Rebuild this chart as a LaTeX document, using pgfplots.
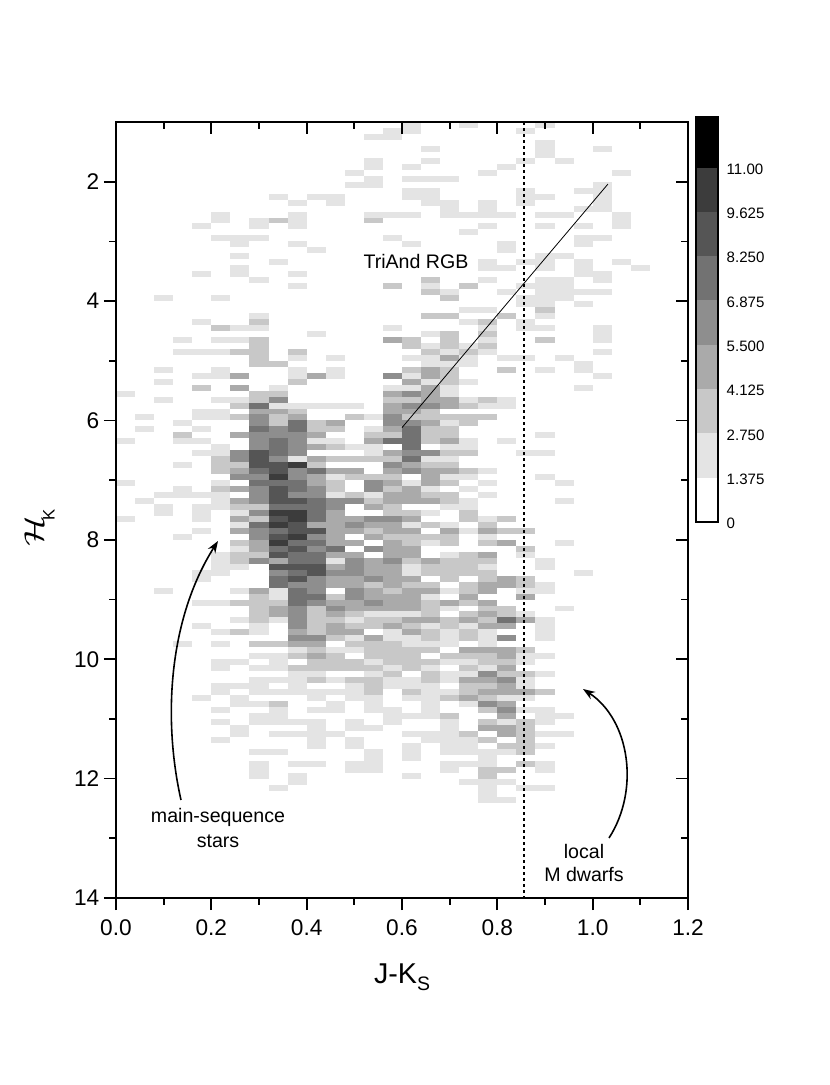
\documentclass[border=0pt]{standalone}
\usepackage{fontspec}
\setmainfont{Liberation Sans}
\usepackage{graphicx}
\usepackage{pgfplots}
\usepackage{pgfplotstable}
\pgfplotsset{compat=1.18}
\usetikzlibrary{arrows.meta}

\definecolor{lva}{HTML}{E4E4E4}
\definecolor{lvb}{HTML}{C8C8C8}
\definecolor{lvc}{HTML}{AAAAAA}
\definecolor{lvd}{HTML}{8E8E8E}
\definecolor{lve}{HTML}{727272}
\definecolor{lvf}{HTML}{555555}
\definecolor{lvg}{HTML}{3C3C3C}

% one histogram bin: 0.04 mag wide, 0.1 mag high
\pgfdeclareplotmark{cell}{\pgfpathrectangle{\pgfpoint{-7.15pt}{-2.24pt}}{\pgfpoint{14.3pt}{4.48pt}}\pgfusepathqfill}

\pgfplotsset{frame/.style={
  scale only axis,width=429pt,height=582pt,
  at={(0pt,0pt)},anchor=south west,
  xmin=0,xmax=1.2,ymin=1,ymax=14,y dir=reverse,
  xtick={0,0.2,...,1.2},ytick={2,4,...,14},
  minor x tick num=1,minor y tick num=1,
  major tick length=9pt,minor tick length=5pt,
  every tick/.style={black,line width=1.3pt},
  axis line style={line width=1.5pt},
}}

% columns: x bin (0.04 wide), y bin (0.1 high), count
\pgfplotstableread[row sep=\\]{
i j v\\
15 0 2\\ 18 0 2\\ 22 0 2\\
14 1 2\\ 15 1 2\\ 21 1 2\\
13 2 2\\ 14 2 2\\
22 3 2\\
16 4 2\\ 22 4 2\\ 25 4 2\\
22 5 2\\
13 6 2\\ 16 6 2\\ 21 6 2\\ 23 6 2\\
13 7 2\\ 15 7 2\\ 20 7 2\\
12 8 2\\ 19 8 2\\ 26 8 2\\
13 9 2\\ 15 9 2\\ 16 9 2\\ 17 9 2\\
12 10 2\\ 13 10 2\\ 25 10 2\\
15 11 2\\ 16 11 2\\ 21 11 2\\ 24 11 2\\ 25 11 2\\
8 12 2\\ 10 12 2\\ 11 12 2\\ 15 12 2\\ 16 12 2\\ 21 12 2\\ 22 12 2\\ 25 12 2\\
9 13 2\\ 11 13 2\\ 16 13 2\\ 17 13 2\\ 19 13 2\\ 21 13 2\\ 25 13 2\\
17 14 2\\ 19 14 2\\ 24 14 2\\ 25 14 2\\
5 15 2\\ 9 15 2\\ 13 15 2\\ 14 15 2\\ 15 15 2\\ 17 15 2\\ 18 15 2\\ 19 15 2\\ 20 15 2\\ 22 15 2\\ 23 15 2\\ 26 15 2\\
5 16 2\\ 7 16 2\\ 8 16 3\\ 9 16 2\\ 13 16 3\\ 26 16 2\\
4 17 2\\ 7 17 2\\ 9 17 2\\ 19 17 2\\ 22 17 2\\ 24 17 2\\ 26 17 2\\
18 18 2\\
5 19 2\\ 6 19 2\\ 7 19 2\\ 14 19 2\\ 24 19 2\\ 25 19 2\\
6 20 2\\ 9 20 2\\ 15 20 2\\ 20 20 2\\ 24 20 2\\
10 21 2\\ 20 21 2\\
6 22 2\\ 22 22 2\\ 23 22 2\\
8 23 2\\ 19 23 2\\ 21 23 2\\ 22 23 2\\ 24 23 2\\ 26 23 2\\
6 24 2\\ 19 24 2\\ 20 24 2\\ 22 24 2\\ 24 24 2\\ 27 24 2\\
4 25 2\\ 6 25 2\\ 9 25 2\\ 24 25 2\\ 25 25 2\\
7 26 2\\ 16 26 3\\ 19 26 2\\ 22 26 2\\ 23 26 2\\ 25 26 2\\
9 27 2\\ 14 27 3\\ 16 27 2\\ 18 27 3\\ 21 27 2\\ 22 27 2\\ 23 27 2\\
16 28 3\\ 17 28 2\\ 20 28 2\\ 22 28 2\\ 23 28 2\\ 24 28 2\\ 25 28 2\\
2 29 2\\ 5 29 2\\ 17 29 3\\ 21 29 2\\ 22 29 2\\ 23 29 2\\
21 30 2\\ 22 30 2\\ 24 30 2\\
18 31 2\\ 19 31 2\\ 22 31 3\\
7 32 2\\ 16 32 3\\ 17 32 3\\ 20 32 3\\ 22 32 2\\
4 33 2\\ 7 33 3\\ 18 33 2\\ 19 33 3\\ 21 33 2\\
5 34 3\\ 6 34 2\\ 7 34 2\\ 14 34 2\\ 19 34 2\\ 21 34 2\\ 22 34 2\\ 25 34 2\\
10 35 2\\ 16 35 2\\ 17 35 3\\ 19 35 3\\ 25 35 2\\
3 36 2\\ 5 36 2\\ 6 36 2\\ 7 36 3\\ 14 36 5\\ 15 36 3\\ 17 36 3\\ 19 36 2\\ 22 36 3\\ 25 36 2\\
7 37 3\\ 15 37 3\\ 16 37 2\\ 17 37 3\\ 18 37 2\\ 19 37 3\\
3 38 2\\ 4 38 2\\ 5 38 2\\ 6 38 3\\ 7 38 3\\ 9 38 3\\ 16 38 3\\ 17 38 2\\ 18 38 3\\ 19 38 2\\ 25 38 2\\
7 39 3\\ 9 39 2\\ 11 39 2\\ 15 39 2\\ 16 39 2\\ 17 39 5\\ 18 39 2\\ 20 39 2\\ 21 39 2\\ 23 39 2\\
7 40 3\\ 8 40 3\\ 16 40 2\\ 17 40 2\\ 18 40 2\\ 24 40 2\\
2 41 2\\ 5 41 2\\ 9 41 2\\ 11 41 2\\ 15 41 3\\ 16 41 5\\ 17 41 3\\ 20 41 3\\ 22 41 2\\ 24 41 2\\
4 42 2\\ 5 42 2\\ 6 42 5\\ 9 42 2\\ 10 42 5\\ 11 42 2\\ 14 42 6\\ 15 42 2\\ 16 42 5\\ 17 42 3\\ 25 42 2\\
2 43 2\\ 9 43 3\\ 15 43 5\\ 16 43 2\\ 17 43 3\\ 18 43 2\\
4 44 3\\ 6 44 5\\ 8 44 2\\ 14 44 2\\ 15 44 2\\ 16 44 5\\ 17 44 2\\ 24 44 2\\
0 45 2\\ 7 45 3\\ 8 45 3\\ 14 45 5\\ 15 45 6\\ 16 45 5\\ 17 45 2\\
2 46 2\\ 5 46 2\\ 6 46 2\\ 7 46 3\\ 8 46 6\\ 14 46 3\\ 15 46 3\\ 16 46 5\\ 17 46 5\\ 18 46 2\\ 19 46 3\\ 20 46 2\\
6 47 3\\ 7 47 8\\ 8 47 2\\ 9 47 2\\ 10 47 2\\ 11 47 2\\ 12 47 2\\ 14 47 5\\ 15 47 6\\ 16 47 6\\ 17 47 5\\ 18 47 3\\ 19 47 2\\ 20 47 2\\
4 48 2\\ 5 48 2\\ 7 48 5\\ 8 48 5\\ 9 48 3\\ 14 48 5\\ 15 48 5\\ 16 48 3\\
1 49 2\\ 4 49 2\\ 5 49 2\\ 6 49 3\\ 7 49 6\\ 8 49 3\\ 9 49 5\\ 12 49 3\\ 13 49 2\\ 14 49 6\\ 15 49 3\\ 16 49 3\\ 17 49 3\\ 18 49 3\\ 19 49 3\\
3 50 2\\ 7 50 6\\ 8 50 3\\ 9 50 8\\ 10 50 3\\ 11 50 5\\ 14 50 6\\ 15 50 6\\ 16 50 5\\ 17 50 2\\ 18 50 3\\
1 51 2\\ 4 51 2\\ 7 51 8\\ 8 51 6\\ 9 51 8\\ 10 51 3\\ 11 51 3\\ 13 51 2\\ 14 51 5\\ 15 51 8\\ 16 51 3\\ 17 51 3\\
3 52 3\\ 6 52 5\\ 7 52 6\\ 8 52 6\\ 9 52 6\\ 10 52 5\\ 13 52 3\\ 14 52 3\\ 15 52 8\\ 16 52 3\\ 17 52 3\\ 22 52 2\\
0 53 2\\ 3 53 2\\ 4 53 2\\ 7 53 6\\ 8 53 8\\ 9 53 6\\ 10 53 2\\ 11 53 2\\ 13 53 5\\ 14 53 8\\ 15 53 8\\ 16 53 3\\ 17 53 5\\ 18 53 2\\ 20 53 2\\
5 54 2\\ 7 54 6\\ 8 54 8\\ 9 54 6\\ 10 54 5\\ 11 54 3\\ 12 54 2\\ 13 54 2\\ 15 54 8\\ 17 54 2\\ 18 54 2\\
4 55 2\\ 5 55 2\\ 6 55 6\\ 7 55 9\\ 8 55 8\\ 9 55 6\\ 13 55 2\\ 14 55 5\\ 15 55 6\\ 16 55 6\\ 17 55 3\\ 18 55 3\\ 21 55 2\\ 22 55 2\\
5 56 3\\ 6 56 6\\ 7 56 9\\ 8 56 6\\ 9 56 2\\ 10 56 5\\ 11 56 3\\ 12 56 3\\ 13 56 3\\ 14 56 3\\ 15 56 8\\ 16 56 2\\ 17 56 2\\
3 57 2\\ 5 57 3\\ 6 57 3\\ 7 57 9\\ 8 57 9\\ 9 57 10\\ 10 57 3\\ 14 57 6\\ 15 57 5\\ 16 57 3\\ 17 57 3\\
5 58 3\\ 6 58 5\\ 7 58 8\\ 8 58 9\\ 9 58 6\\ 10 58 8\\ 11 58 5\\ 12 58 5\\ 14 58 5\\ 15 58 6\\ 16 58 5\\ 17 58 5\\ 18 58 3\\ 19 58 2\\
6 59 6\\ 7 59 6\\ 8 59 10\\ 9 59 6\\ 10 59 5\\ 11 59 2\\ 12 59 3\\ 13 59 3\\ 14 59 3\\ 16 59 5\\ 17 59 2\\ 18 59 2\\ 22 59 2\\
0 60 2\\ 5 60 2\\ 7 60 8\\ 8 60 8\\ 9 60 8\\ 10 60 5\\ 11 60 3\\ 13 60 6\\ 14 60 5\\ 15 60 2\\ 16 60 5\\ 17 60 3\\ 19 60 2\\ 23 60 2\\
3 61 2\\ 5 61 3\\ 6 61 5\\ 7 61 6\\ 8 61 9\\ 9 61 8\\ 10 61 6\\ 11 61 3\\ 13 61 6\\ 14 61 3\\ 15 61 5\\ 16 61 2\\ 18 61 2\\
2 62 2\\ 3 62 2\\ 4 62 2\\ 5 62 2\\ 7 62 6\\ 8 62 9\\ 9 62 6\\ 10 62 6\\ 11 62 2\\ 12 62 3\\ 13 62 2\\ 14 62 5\\ 15 62 5\\ 16 62 3\\ 17 62 3\\ 19 62 2\\
1 63 2\\ 5 63 2\\ 6 63 5\\ 7 63 6\\ 8 63 9\\ 9 63 9\\ 10 63 8\\ 11 63 6\\ 12 63 6\\ 13 63 3\\ 14 63 5\\ 15 63 5\\ 16 63 5\\ 17 63 3\\ 18 63 2\\ 23 63 2\\
2 64 2\\ 4 64 2\\ 5 64 2\\ 6 64 3\\ 7 64 3\\ 8 64 8\\ 9 64 8\\ 10 64 8\\ 11 64 6\\ 13 64 5\\ 14 64 3\\ 17 64 2\\ 18 64 2\\
2 65 2\\ 4 65 2\\ 6 65 2\\ 7 65 6\\ 8 65 10\\ 9 65 10\\ 10 65 8\\ 11 65 5\\ 14 65 3\\ 15 65 3\\ 16 65 2\\ 18 65 3\\
0 66 2\\ 4 66 2\\ 6 66 5\\ 7 66 3\\ 8 66 9\\ 9 66 10\\ 10 66 8\\ 11 66 5\\ 12 66 5\\ 13 66 6\\ 14 66 6\\ 15 66 5\\ 18 66 3\\ 19 66 2\\ 20 66 3\\
6 67 2\\ 7 67 8\\ 8 67 10\\ 9 67 9\\ 10 67 5\\ 11 67 5\\ 12 67 6\\ 13 67 5\\ 14 67 5\\ 15 67 2\\ 16 67 3\\ 17 67 2\\ 19 67 3\\
4 68 2\\ 6 68 5\\ 7 68 6\\ 8 68 8\\ 9 68 9\\ 10 68 9\\ 11 68 5\\ 12 68 5\\ 13 68 3\\ 14 68 5\\ 15 68 5\\ 17 68 5\\ 18 68 2\\ 19 68 5\\ 20 68 3\\ 21 68 3\\
3 69 2\\ 7 69 6\\ 8 69 9\\ 9 69 10\\ 10 69 6\\ 11 69 5\\ 13 69 5\\ 14 69 3\\ 15 69 3\\ 16 69 3\\ 17 69 3\\ 19 69 2\\
6 70 3\\ 7 70 5\\ 8 70 10\\ 9 70 8\\ 10 70 8\\ 11 70 5\\ 12 70 5\\ 14 70 5\\ 15 70 3\\ 16 70 2\\ 17 70 3\\ 19 70 3\\ 20 70 5\\ 23 70 2\\
6 71 2\\ 7 71 5\\ 8 71 8\\ 9 71 9\\ 10 71 6\\ 11 71 8\\ 13 71 6\\ 14 71 5\\ 15 71 5\\ 21 71 3\\
5 72 2\\ 6 72 3\\ 7 72 3\\ 8 72 9\\ 9 72 8\\ 10 72 8\\ 11 72 5\\ 12 72 5\\ 14 72 5\\ 15 72 5\\ 17 72 2\\ 18 72 3\\ 19 72 5\\ 21 72 2\\
5 73 2\\ 6 73 3\\ 7 73 6\\ 8 73 5\\ 9 73 8\\ 10 73 8\\ 11 73 2\\ 12 73 6\\ 13 73 5\\ 14 73 6\\ 15 73 3\\ 16 73 5\\ 17 73 3\\ 18 73 3\\ 19 73 3\\ 22 73 2\\
5 74 2\\ 6 74 2\\ 8 74 9\\ 9 74 9\\ 10 74 9\\ 11 74 5\\ 12 74 6\\ 13 74 5\\ 14 74 5\\ 15 74 2\\ 16 74 3\\ 17 74 3\\ 18 74 3\\ 19 74 2\\ 22 74 2\\
4 75 2\\ 5 75 2\\ 8 75 6\\ 9 75 8\\ 10 75 9\\ 11 75 6\\ 12 75 6\\ 13 75 5\\ 14 75 5\\ 15 75 2\\ 16 75 3\\ 17 75 3\\ 18 75 3\\ 19 75 3\\ 24 75 2\\
4 76 2\\ 8 76 8\\ 9 76 9\\ 10 76 6\\ 11 76 5\\ 12 76 5\\ 13 76 6\\ 14 76 5\\ 15 76 5\\ 17 76 3\\ 19 76 3\\ 20 76 5\\ 21 76 3\\
8 77 8\\ 9 77 6\\ 10 77 6\\ 11 77 5\\ 12 77 5\\ 13 77 3\\ 14 77 5\\ 15 77 3\\ 16 77 3\\ 18 77 3\\ 19 77 5\\ 20 77 5\\ 21 77 3\\ 22 77 2\\
2 78 2\\ 6 78 2\\ 7 78 5\\ 8 78 2\\ 9 78 8\\ 10 78 6\\ 12 78 6\\ 13 78 5\\ 14 78 3\\ 15 78 5\\ 16 78 5\\ 17 78 2\\ 18 78 3\\ 19 78 5\\ 21 78 2\\ 22 78 2\\
7 79 3\\ 8 79 2\\ 9 79 8\\ 10 79 8\\ 11 79 3\\ 12 79 6\\ 13 79 5\\ 14 79 5\\ 15 79 5\\ 16 79 2\\ 18 79 5\\ 21 79 5\\
4 80 2\\ 5 80 2\\ 6 80 3\\ 7 80 3\\ 8 80 3\\ 9 80 8\\ 10 80 6\\ 11 80 5\\ 12 80 5\\ 13 80 6\\ 14 80 5\\ 15 80 5\\ 16 80 3\\ 17 80 5\\ 18 80 3\\ 19 80 5\\
7 81 3\\ 8 81 5\\ 9 81 6\\ 10 81 3\\ 11 81 6\\ 12 81 5\\ 13 81 5\\ 14 81 5\\ 15 81 5\\ 16 81 3\\ 17 81 2\\ 19 81 3\\ 20 81 3\\ 23 81 2\\
7 82 3\\ 8 82 5\\ 9 82 6\\ 10 82 3\\ 11 82 5\\ 12 82 3\\ 13 82 2\\ 14 82 2\\ 15 82 2\\ 16 82 3\\ 18 82 3\\ 19 82 5\\ 20 82 3\\ 21 82 2\\
6 83 2\\ 7 83 3\\ 8 83 2\\ 9 83 6\\ 10 83 3\\ 11 83 3\\ 12 83 2\\ 13 83 3\\ 14 83 3\\ 15 83 5\\ 16 83 5\\ 17 83 3\\ 18 83 5\\ 19 83 3\\ 20 83 8\\ 21 83 5\\ 22 83 2\\
4 84 2\\ 7 84 2\\ 9 84 6\\ 10 84 3\\ 11 84 5\\ 12 84 3\\ 13 84 3\\ 14 84 5\\ 15 84 3\\ 16 84 2\\ 17 84 3\\ 18 84 2\\ 19 84 5\\ 20 84 5\\ 22 84 2\\
5 85 2\\ 6 85 3\\ 7 85 2\\ 9 85 5\\ 10 85 3\\ 11 85 5\\ 12 85 5\\ 14 85 2\\ 15 85 5\\ 16 85 3\\ 17 85 2\\ 18 85 3\\ 19 85 2\\ 22 85 2\\
9 86 6\\ 10 86 6\\ 11 86 3\\ 12 86 2\\ 13 86 5\\ 14 86 2\\ 15 86 2\\ 16 86 3\\ 17 86 2\\ 18 86 3\\ 19 86 2\\ 20 86 6\\ 22 86 2\\
3 87 2\\ 5 87 2\\ 7 87 3\\ 8 87 3\\ 9 87 5\\ 10 87 5\\ 12 87 3\\ 13 87 3\\ 14 87 3\\ 15 87 2\\ 16 87 2\\ 17 87 2\\ 19 87 2\\
9 88 2\\ 10 88 3\\ 11 88 2\\ 12 88 2\\ 13 88 3\\ 14 88 3\\ 15 88 3\\ 16 88 3\\ 18 88 5\\ 19 88 5\\ 20 88 5\\ 21 88 3\\
7 89 2\\ 8 89 2\\ 9 89 3\\ 10 89 5\\ 11 89 3\\ 13 89 3\\ 14 89 3\\ 15 89 3\\ 17 89 3\\ 18 89 3\\ 19 89 3\\ 20 89 5\\ 21 89 2\\ 22 89 2\\
5 90 2\\ 6 90 2\\ 8 90 2\\ 10 90 3\\ 11 90 3\\ 12 90 3\\ 13 90 2\\ 14 90 3\\ 15 90 3\\ 16 90 3\\ 17 90 2\\ 18 90 2\\ 19 90 3\\ 20 90 3\\ 21 90 2\\
5 91 2\\ 7 91 2\\ 8 91 2\\ 9 91 3\\ 10 91 3\\ 11 91 3\\ 12 91 3\\ 13 91 3\\ 14 91 2\\ 15 91 3\\ 16 91 2\\ 18 91 3\\ 19 91 2\\ 20 91 5\\
9 92 2\\ 10 92 2\\ 13 92 2\\ 14 92 3\\ 16 92 3\\ 17 92 2\\ 18 92 2\\ 19 92 6\\ 20 92 3\\ 21 92 3\\ 22 92 2\\
7 93 2\\ 8 93 2\\ 9 93 2\\ 10 93 3\\ 11 93 2\\ 12 93 3\\ 13 93 3\\ 14 93 2\\ 15 93 2\\ 16 93 3\\ 17 93 2\\ 18 93 5\\ 19 93 5\\ 20 93 6\\ 21 93 2\\
5 94 2\\ 6 94 2\\ 7 94 2\\ 9 94 2\\ 12 94 2\\ 13 94 3\\ 14 94 2\\ 15 94 2\\ 16 94 2\\ 18 94 3\\ 19 94 3\\ 20 94 5\\ 21 94 2\\
5 95 2\\ 7 95 2\\ 8 95 2\\ 9 95 2\\ 10 95 2\\ 11 95 2\\ 12 95 2\\ 13 95 3\\ 15 95 3\\ 16 95 2\\ 17 95 2\\ 18 95 3\\ 19 95 5\\ 20 95 5\\ 21 95 5\\ 22 95 3\\
4 96 2\\ 6 96 2\\ 10 96 2\\ 12 96 2\\ 13 96 2\\ 15 96 2\\ 16 96 2\\ 17 96 3\\ 18 96 5\\ 19 96 3\\ 20 96 2\\ 21 96 2\\
6 97 2\\ 7 97 2\\ 8 97 3\\ 11 97 2\\ 13 97 2\\ 16 97 2\\ 18 97 2\\ 19 97 6\\ 20 97 5\\
5 98 2\\ 8 98 2\\ 10 98 2\\ 11 98 2\\ 13 98 2\\ 14 98 2\\ 16 98 2\\ 19 98 3\\ 20 98 6\\ 21 98 2\\ 22 98 2\\
7 99 2\\ 8 99 2\\ 14 99 2\\ 15 99 2\\ 16 99 2\\ 17 99 3\\ 20 99 5\\ 22 99 2\\ 23 99 2\\
5 100 2\\ 7 100 2\\ 8 100 2\\ 9 100 2\\ 10 100 2\\ 12 100 2\\ 14 100 2\\ 17 100 2\\ 19 100 3\\ 20 100 2\\ 21 100 3\\ 22 100 2\\
6 101 2\\ 10 101 2\\ 12 101 2\\ 13 101 2\\ 17 101 2\\ 19 101 5\\ 20 101 5\\ 21 101 3\\
6 102 2\\ 8 102 2\\ 9 102 2\\ 10 102 2\\ 11 102 2\\ 15 102 2\\ 16 102 2\\ 17 102 2\\ 18 102 3\\ 20 102 5\\ 21 102 3\\ 22 102 2\\ 23 102 2\\
5 103 2\\ 10 103 2\\ 12 103 2\\ 16 103 2\\ 17 103 2\\ 18 103 2\\ 19 103 3\\ 21 103 3\\
10 104 2\\ 12 104 2\\ 15 104 2\\ 17 104 2\\ 18 104 2\\ 20 104 3\\ 21 104 3\\ 22 104 2\\
7 105 2\\ 8 105 2\\ 13 105 2\\ 15 105 2\\ 17 105 2\\ 18 105 2\\ 19 105 2\\ 20 105 2\\ 21 105 3\\
13 106 2\\ 15 106 2\\ 19 106 2\\
7 107 2\\ 9 107 2\\ 10 107 2\\ 12 107 2\\ 13 107 2\\ 17 107 2\\ 18 107 2\\ 19 107 2\\ 21 107 3\\ 22 107 2\\
7 108 2\\ 12 108 2\\ 13 108 2\\ 17 108 2\\ 19 108 3\\ 20 108 3\\ 22 108 2\\
7 109 2\\ 9 109 2\\ 15 109 2\\ 19 109 3\\
9 110 2\\ 18 110 2\\ 19 110 2\\ 20 110 2\\
8 111 2\\ 19 111 2\\ 21 111 2\\ 22 111 2\\
19 112 2\\
19 113 2\\ 20 113 2\\
}\bins

\begin{document}
\begin{tikzpicture}
\begin{axis}[frame,
  tick align=outside,xtick pos=bottom,ytick pos=left,
  axis on top,
  /pgf/number format/assume math mode=true,
  xticklabel style={yshift=-3.5pt,/pgf/number format/fixed,/pgf/number format/fixed zerofill,/pgf/number format/precision=1},
  tick label style={font=\fontsize{17}{19}\selectfont},
]
\addplot[scatter,only marks,scatter src=explicit symbolic,
  scatter/classes={
    2={mark=cell,lva},3={mark=cell,lvb},5={mark=cell,lvc},6={mark=cell,lvd},
    8={mark=cell,lve},9={mark=cell,lvf},10={mark=cell,lvg}}]
  table[x expr=0.02+0.04*\thisrow{i},y expr=1.05+0.1*\thisrow{j},meta=v] {\bins};
\end{axis}
% inner ticks on the top and right sides, lines over the bins
\begin{axis}[frame,
  tick align=inside,xtick pos=top,ytick pos=right,
  xticklabels={},yticklabels={},
]
\addplot[black,line width=1.5pt,dash pattern=on 2.2pt off 2.3pt] coordinates {(0.855,1) (0.855,14)};
\addplot[black,line width=0.6pt] coordinates {(0.6,6.12) (1.032,2.04)};
\end{axis}
% colour scale
\begin{axis}[scale only axis,width=16.5pt,height=303.75pt,
  at={(435pt,282pt)},anchor=south west,
  xmin=0,xmax=1,ymin=0,ymax=12.57,xtick=\empty,
  ytick={0,1.375,2.75,4.125,5.5,6.875,8.25,9.625,11},
  yticklabels={0,1.375,2.750,4.125,5.500,6.875,8.250,9.625,11.00},
  ytick pos=right,major tick length=0pt,axis on top,
  axis line style={line width=1pt},
  y tick label style={font=\fontsize{11.3}{13}\selectfont,xshift=3pt,yshift=-1.2pt},
]
\addplot[fill=lva,draw=none] coordinates {(0,1.375) (1,1.375) (1,2.75) (0,2.75)} --cycle;
\addplot[fill=lvb,draw=none] coordinates {(0,2.75) (1,2.75) (1,4.125) (0,4.125)} --cycle;
\addplot[fill=lvc,draw=none] coordinates {(0,4.125) (1,4.125) (1,5.5) (0,5.5)} --cycle;
\addplot[fill=lvd,draw=none] coordinates {(0,5.5) (1,5.5) (1,6.875) (0,6.875)} --cycle;
\addplot[fill=lve,draw=none] coordinates {(0,6.875) (1,6.875) (1,8.25) (0,8.25)} --cycle;
\addplot[fill=lvf,draw=none] coordinates {(0,8.25) (1,8.25) (1,9.625) (0,9.625)} --cycle;
\addplot[fill=lvg,draw=none] coordinates {(0,9.625) (1,9.625) (1,11) (0,11)} --cycle;
\addplot[fill=black,draw=none] coordinates {(0,11) (1,11) (1,12.57) (0,12.57)} --cycle;
\end{axis}
% labels, placed in reference pixels
\begin{scope}[x=0.75pt,y=-0.75pt,xshift=-87pt,yshift=673.5pt]
\path[use as bounding box] (0,0) rectangle (830,1085);
\node[font=\fontsize{21.5}{24}\selectfont] at (402,977) {J-K\raisebox{-5pt}{\fontsize{14.6}{16}\selectfont S}};
\node[rotate=90,font=\fontsize{22}{26}\selectfont] at (34,531) {\scalebox{1.3}[1]{$\mathcal{H}$}};
\node[rotate=90,font=\fontsize{12.5}{14}\selectfont] at (49,515) {K};
\node[font=\fontsize{14.7}{17}\selectfont] at (416,262) {TriAnd RGB};
\node[font=\fontsize{14.7}{17}\selectfont] at (218,817) {main-sequence};
\node[font=\fontsize{14.7}{17}\selectfont] at (218,841) {stars};
\node[font=\fontsize{14.7}{17}\selectfont] at (584,851) {local};
\node[font=\fontsize{14.7}{17}\selectfont] at (584,874) {M dwarfs};
\draw[line width=1.2pt,-{Stealth[length=9pt,width=6.5pt]}] (181,800) .. controls (163,720) and (168,620) .. (218,541);
\draw[line width=1.2pt,-{Stealth[length=9pt,width=6.5pt]}] (609,838) .. controls (640,790) and (630,720) .. (583,689);
\end{scope}
\end{tikzpicture}
\end{document}
